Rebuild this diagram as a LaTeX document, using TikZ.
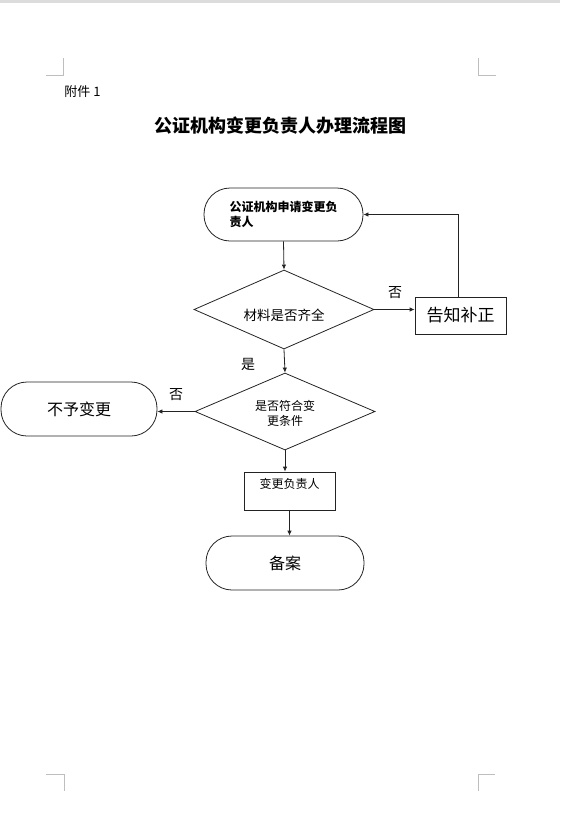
\documentclass[tikz,border=0pt]{standalone}
\usepackage{fontspec}
\setmainfont{Noto Sans CJK SC}
\usepackage{tikz}
\usetikzlibrary{arrows.meta,shapes.geometric}
\usepackage{xcolor}
\definecolor{flowblack}{RGB}{35,35,35}
\definecolor{markgrey}{RGB}{190,190,190}
\definecolor{bargrey}{RGB}{220,220,220}

\begin{document}
\begin{tikzpicture}[x=1pt, y=-1pt, line width=0.8pt,
    pill/.style={draw=flowblack, rounded corners=26pt, inner sep=0pt},
    stepbox/.style={draw=flowblack, inner sep=0pt},
    decision/.style={draw=flowblack, diamond, aspect=2.3, inner sep=0pt},
    flow/.style={draw=flowblack, -{Latex[length=5pt,width=4.5pt]}},
    answer/.style={font=\fontsize{14}{16}\selectfont, inner sep=0pt}]
    \useasboundingbox (0,0) rectangle (560,838);
    % Page top bar
    \fill[bargrey] (0,0) rectangle (560,3);
    % Margin corner marks
    \foreach \ax/\ay/\bx/\by/\cx/\cy in {46/75/63/75/63/58, 478/58/478/75/496/75,
        46/774/64/774/64/791, 478/791/478/774/495/774}{
      \draw[markgrey, line width=0.6pt] (\ax,\ay) -- (\bx,\by) -- (\cx,\cy);
    }
    % Header and title
    \node[anchor=west, font=\fontsize{13}{15}\selectfont, inner sep=0pt]
      (annex) at (64,92) {附件 1};
    \node[font=\fontsize{18}{20}\selectfont\bfseries, inner sep=0pt]
      (title) at (280,126) {公证机构变更负责人办理流程图};
    % Steps
    \node[pill, minimum width=159pt, minimum height=53pt, align=left,
      font=\fontsize{12}{15}\selectfont\bfseries]
      (apply) at (283.5,214.5) {公证机构申请变更负\\责人};
    \node[decision, minimum width=180pt, minimum height=79pt,
      font=\fontsize{13.5}{16}\selectfont]
      (materials) at (284,309.5) {\raisebox{-11pt}[0pt][0pt]{材料是否齐全}};
    \node[stepbox, minimum width=91pt, minimum height=37pt,
      font=\fontsize{17}{20}\selectfont]
      (notify) at (460.5,315.5) {告知补正};
    \node[decision, minimum width=180pt, minimum height=77pt,
      font=\fontsize{12}{15}\selectfont]
      (check) at (285,411.5) {\raisebox{-6pt}[0pt][0pt]{\begin{tabular}{@{}c@{}}是否符合变\\更条件\end{tabular}}};
    \node[pill, minimum width=156pt, minimum height=54pt,
      font=\fontsize{16}{19}\selectfont]
      (reject) at (79,409) {不予变更};
    \node[stepbox, minimum width=91pt, minimum height=38pt,
      font=\fontsize{12}{15}\selectfont]
      (change) at (289.5,491) {\raisebox{2.4pt}[0pt][0pt]{变更负责人}};
    \node[pill, minimum width=158pt, minimum height=54pt,
      font=\fontsize{16}{19}\selectfont]
      (file) at (285,563) {备案};
    % Connectors
    \draw[flow] (apply.south) -- (materials.north);
    \draw[flow] (materials.east) -- (materials.east -| notify.west);
    \draw[flow] ([xshift=-2.5pt]notify.north) |- (apply.east);
    \draw[flow] (materials.south) -- (check.north);
    \draw[flow] (check.west) -- (check.west -| reject.east);
    \draw[flow] (check.south) -- (check.south |- change.north);
    \draw[flow] (change.south) -- (change.south |- file.north);
    % Branch answers
    \node[answer] (nomaterials) at (395,293) {否};
    \node[answer] (yesmaterials) at (248,364) {是};
    \node[answer] (nocheck) at (176,395) {否};
\end{tikzpicture}
\end{document}
